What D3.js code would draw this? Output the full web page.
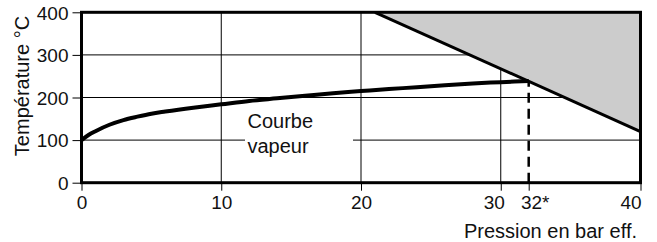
<!DOCTYPE html>
<html>
<head>
<meta charset="utf-8">
<script src="https://cdn.jsdelivr.net/npm/d3@7"></script>
<style>
  body { margin: 0; background: #fff; }
  text { font-family: "Liberation Sans", Arial, sans-serif; fill: #111; }
</style>
</head>
<body>
<svg id="graf"></svg>
<script>
// Données
var pressions = [0, 0.5, 1, 2, 3, 4, 5, 6, 8, 10, 12, 14, 16, 18, 20, 22, 24, 26, 28, 30, 32];
var temperatures = [100, 112, 121, 136, 147, 155, 162, 167, 176, 184, 192, 198, 204, 210, 215, 220, 224, 229, 233, 236, 239];
var zoneLimite = [[21, 400], [40, 400], [40, 120]];
var pressionMax = 32;
var ticksX = [0, 10, 20, 30, 32, 40];
var labelsX = ['0', '10', '20', '30', '32*', '40'];
var ticksY = [0, 100, 200, 300, 400];
var gridX = [10, 20, 30];
var gridY = [100, 200, 300];

var largura = 657, altura = 242;
var margem = { esquerda: 81.5, direita: 16.5, superior: 12.3, inferior: 59.3 };
var lp = largura - margem.esquerda - margem.direita;
var ap = altura - margem.superior - margem.inferior;

var svg = d3.select('#graf').attr('width', largura).attr('height', altura);
var g = svg.append('g')
           .attr('transform', 'translate(' + margem.esquerda + ',' + margem.superior + ')');

var x = d3.scaleLinear().domain([0, 40]).range([0, lp]);
var y = d3.scaleLinear().domain([0, 400]).range([ap, 0]);

// Grille
g.selectAll('.gx').data(gridX).enter().append('line')
 .attr('x1', d => x(d)).attr('x2', d => x(d))
 .attr('y1', 0).attr('y2', ap)
 .attr('stroke', '#000').attr('stroke-width', 1);
g.selectAll('.gy').data(gridY).enter().append('line')
 .attr('x1', 0).attr('x2', lp)
 .attr('y1', d => y(d)).attr('y2', d => y(d))
 .attr('stroke', '#000').attr('stroke-width', 1);

// Zone grise
g.append('path')
 .attr('d', d3.line().x(d => x(d[0])).y(d => y(d[1]))(zoneLimite) + 'Z')
 .attr('fill', '#cccccc');
g.append('line')
 .attr('x1', x(zoneLimite[0][0])).attr('y1', y(zoneLimite[0][1]))
 .attr('x2', x(zoneLimite[2][0])).attr('y2', y(zoneLimite[2][1]))
 .attr('stroke', '#000').attr('stroke-width', 3);

// Étiquette "Courbe vapeur" avec fond blanc
g.append('rect')
 .attr('x', 245 - margem.esquerda).attr('y', 108 - margem.superior)
 .attr('width', 108).attr('height', 52)
 .attr('fill', '#fff');
var lbl = g.append('text')
 .attr('x', 247.5 - margem.esquerda).attr('y', 128 - margem.superior)
 .style('font-size', '20px');
lbl.append('tspan').text('Courbe');
lbl.append('tspan').attr('x', 247.5 - margem.esquerda).attr('dy', 25).text('vapeur');

// Ligne pointillée à 32 bar
var tMax = temperatures[temperatures.length - 1];
g.append('line')
 .attr('x1', x(pressionMax)).attr('x2', x(pressionMax))
 .attr('y1', y(0)).attr('y2', y(tMax))
 .attr('stroke', '#000').attr('stroke-width', 2.5)
 .attr('stroke-dasharray', '10,6');

// Courbe vapeur
var dados = pressions.map((p, i) => [p, temperatures[i]]);
g.append('path')
 .datum(dados)
 .attr('d', d3.line().x(d => x(d[0])).y(d => y(d[1])).curve(d3.curveMonotoneX))
 .attr('fill', 'none')
 .attr('stroke', '#000').attr('stroke-width', 4);

// Axes
var eixoX = d3.axisBottom(x).tickValues(ticksX)
              .tickFormat((d, i) => labelsX[i]).tickSize(8).tickPadding(5);
var gX = g.append('g').attr('transform', 'translate(0,' + ap + ')').call(eixoX);
var eixoY = d3.axisLeft(y).tickValues(ticksY).tickSize(9).tickPadding(4);
var gY = g.append('g').call(eixoY);
[gX, gY].forEach(function(a) {
  a.select('.domain').remove();
  a.selectAll('line').attr('stroke', '#000').attr('stroke-width', 1);
  a.selectAll('text').style('font-size', '19px').attr('fill', '#111');
});
gY.selectAll('text').attr('dy', '0.36em');
// petits décalages des étiquettes serrées
var decal = { 30: -7, 32: 6, 40: -10 };
gX.selectAll('text').attr('dx', d => decal[d] || 0);

// Cadre
g.append('rect')
 .attr('x', 0).attr('y', 0).attr('width', lp).attr('height', ap)
 .attr('fill', 'none').attr('stroke', '#000').attr('stroke-width', 3);

// Titres des axes
svg.append('text')
   .attr('transform', 'translate(29,86) rotate(-90)')
   .style('text-anchor', 'middle').style('font-size', '20px')
   .text('Température °C');
svg.append('text')
   .attr('x', 637).attr('y', 238)
   .style('text-anchor', 'end').style('font-size', '20px')
   .text('Pression en bar eff.');
</script>
</body>
</html>
